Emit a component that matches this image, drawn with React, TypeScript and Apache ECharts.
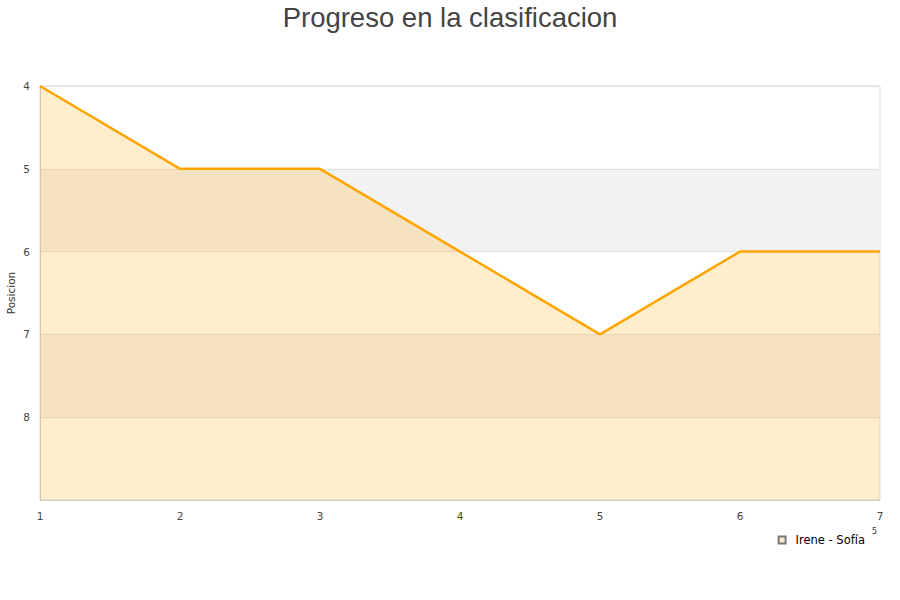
import React, { useEffect, useRef } from "react";
import * as echarts from "echarts";

const jornadas = ["1", "2", "3", "4", "5", "6", "7"];
const posiciones = [4, 5, 5, 6, 7, 6, 6];
const serieNombre = "Irene - Sofía";
const titulo = "Progreso en la clasificacion";
const ejeY = "Posicion";

export default function App() {
  const ref = useRef<HTMLDivElement>(null);
  useEffect(() => {
    const chart = echarts.init(ref.current!, null, { renderer: "svg" });
    chart.setOption({
      animation: false,
      title: {
        text: titulo,
        left: "center",
        top: -2,
        textStyle: { fontFamily: "Liberation Sans", fontSize: 27.5, fontWeight: "normal", color: "#444" },
      },
      grid: {
        left: 40,
        right: 20,
        top: 86,
        bottom: 100,
        show: true,
        borderColor: "#ddd",
        borderWidth: 1,
        containLabel: false,
        outerBoundsMode: "none",
      },
      legend: {
        data: [{ name: serieNombre, icon: "rect" }],
        right: 30,
        top: 529,
        itemWidth: 7,
        itemHeight: 7,
        itemGap: 8,
        textStyle: { fontFamily: "DejaVu Sans", fontSize: 11.5, color: "#000", padding: [0, 0, 0, 5] },
      },
      xAxis: {
        type: "category",
        data: jornadas,
        boundaryGap: false,
        axisLine: { lineStyle: { color: "#ccc" } },
        axisTick: { show: false },
        axisLabel: { color: "#444", fontFamily: "DejaVu Sans", fontSize: 10.5, margin: 10 },
        splitLine: { show: false },
      },
      yAxis: {
        type: "value",
        inverse: true,
        min: 4,
        max: 9,
        interval: 1,
        axisLine: { show: true, lineStyle: { color: "#ccc" } },
        axisTick: { show: false },
        axisLabel: {
          color: "#444",
          fontFamily: "DejaVu Sans",
          fontSize: 10.5,
          margin: 10,
          formatter: (v: number) => (v === 9 ? "" : String(v)),
        },
        splitLine: { show: true, lineStyle: { color: "#e0e0e0" } },
        splitArea: { show: true, areaStyle: { color: ["rgba(255,255,255,0)", "#f2f2f2"] } },
      },
      graphic: [
        {
          type: "text",
          x: 11,
          y: 293,
          rotation: Math.PI / 2,
          style: {
            text: ejeY,
            fontFamily: "DejaVu Sans",
            fontSize: 10.5,
            fill: "#333",
            align: "center",
            verticalAlign: "middle",
          },
        },
        {
          type: "text",
          x: 872,
          y: 527,
          style: { text: "5", fontFamily: "DejaVu Sans", fontSize: 8, fill: "#333" },
        },
      ],
      series: [
        {
          name: serieNombre,
          type: "line",
          data: posiciones,
          showSymbol: false,
          symbol: "none",
          lineStyle: { color: "#ffa500", width: 2.5 },
          itemStyle: { color: "#ffedcc", borderColor: "#777", borderWidth: 1 },
          areaStyle: { color: "rgba(255,165,0,0.2)", opacity: 1, origin: "end" },
        },
      ],
    });
    return () => chart.dispose();
  }, []);
  return <div ref={ref} style={{ position: "absolute", left: 0, top: 0, width: 900, height: 600 }} />;
}
